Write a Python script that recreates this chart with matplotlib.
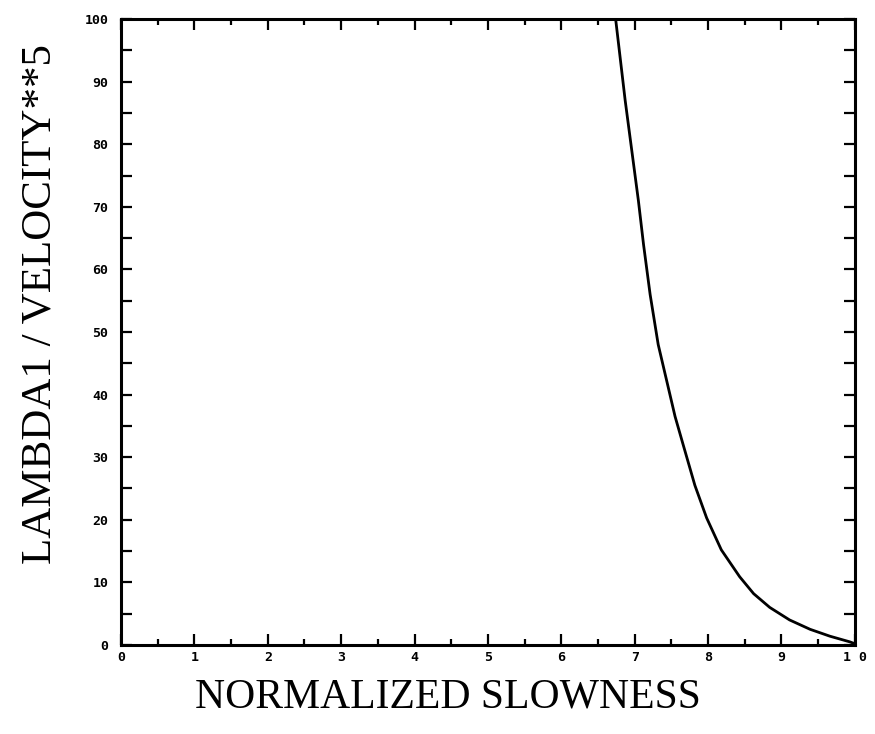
import matplotlib
matplotlib.use("Agg")
import matplotlib.pyplot as plt
from matplotlib.font_manager import FontProperties
from matplotlib.ticker import MultipleLocator

# curve (normalized slowness vs lambda1 / velocity**5)
slowness = [6.74, 6.87, 6.96, 7.05, 7.12, 7.21, 7.32, 7.43, 7.55, 7.66,
            7.82, 7.98, 8.18, 8.43, 8.62, 8.84, 9.11, 9.39, 9.66, 9.93, 10.0]
lam_v5 = [100.0, 87.0, 79.0, 71.0, 64.0, 56.0, 48.0, 42.5, 36.5, 32.0,
          25.5, 20.3, 15.2, 10.9, 8.2, 6.0, 4.0, 2.5, 1.4, 0.5, 0.2]

x_ticks = list(range(0, 11))
x_ticklabels = ["0", "1", "2", "3", "4", "5", "6", "7", "8", "9", "1 0"]
y_ticks = list(range(0, 101, 10))
y_ticklabels = [str(v) for v in y_ticks]

fig = plt.figure(figsize=(8.75, 7.34), dpi=100)
ax = fig.add_axes([0.1383, 0.1213, 0.977 - 0.1383, 0.974 - 0.1213])

ax.plot(slowness, lam_v5, color="black", lw=2.0)

ax.set_xlim(0, 10)
ax.set_ylim(0, 100)
ax.set_xticks(x_ticks)
ax.set_xticklabels(x_ticklabels)
ax.set_yticks(y_ticks)
ax.set_yticklabels(y_ticklabels)
ax.xaxis.set_minor_locator(MultipleLocator(0.5))
ax.yaxis.set_minor_locator(MultipleLocator(5))

tick_fp = FontProperties(family="DejaVu Sans Mono", weight="bold", size=9.5)
for lab in ax.get_xticklabels() + ax.get_yticklabels():
    lab.set_fontproperties(tick_fp)

ax.tick_params(which="both", direction="in", top=True, right=True,
               color="black", width=1.6)
ax.tick_params(which="major", axis="x", length=8, pad=4)
ax.tick_params(which="minor", axis="x", length=4)
ax.tick_params(which="both", axis="y", length=8, pad=9)

for s in ax.spines.values():
    s.set_linewidth(2.2)

# axis titles placed in figure pixels to match the original plotter layout
label_font = dict(family="Liberation Serif", color="black")
fig.text(448 / 875, 1 - 697 / 734, "NORMALIZED SLOWNESS",
         ha="center", va="center", size=30, **label_font)
fig.text(40 / 875, 1 - 304 / 734, "LAMBDA1 / VELOCITY**5",
         ha="center", va="center", rotation=90, size=31, **label_font)

fig.savefig("out.png", dpi=100)
